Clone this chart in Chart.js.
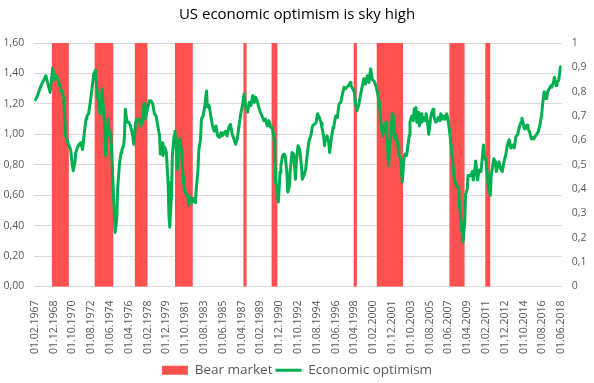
<!DOCTYPE html>
<html>
<head>
<meta charset="utf-8">
<script src="https://cdn.jsdelivr.net/npm/chart.js@4.4.1/dist/chart.umd.min.js"></script>
<style>
  html, body { margin: 0; padding: 0; background: #fff; }
  #wrap { width: 594px; height: 383px; }
</style>
</head>
<body>
<div id="wrap"><canvas id="chart" width="594" height="383"></canvas></div>
<script>
// months counted from 01.02.1967 (= 0), monthly series up to 01.06.2018 (= 616)
const tickLabels = [
  '01.02.1967', '01.12.1968', '01.10.1970', '01.08.1972', '01.06.1974', '01.04.1976',
  '01.02.1978', '01.12.1979', '01.10.1981', '01.08.1983', '01.06.1985', '01.04.1987',
  '01.02.1989', '01.12.1990', '01.10.1992', '01.08.1994', '01.06.1996', '01.04.1998',
  '01.02.2000', '01.12.2001', '01.10.2003', '01.08.2005', '01.06.2007', '01.04.2009',
  '01.02.2011', '01.12.2012', '01.10.2014', '01.08.2016', '01.06.2018'
];
const tickStep = 22; // one label every 22 months

// bear markets: [first month, last month]
const bearRanges = [
  [21, 39], [71, 91], [118, 131], [165, 184], [245, 247],
  [278, 283], [374, 376], [401, 430], [486, 502], [528, 532]
];

// economic optimism (month index, value)
const optMonths = [
  0, 3, 6, 9, 11, 13, 15, 18, 21, 23, 25, 27, 28, 30, 32, 34, 35, 36, 38, 40,
  42, 44, 45, 47, 48, 50, 52, 54, 56, 58, 60, 61, 63, 65, 67, 69, 71, 72, 74, 76,
  77, 79, 80, 82, 83, 84, 86, 87, 89, 91, 93, 94, 96, 97, 99, 101, 102, 104, 105, 106,
  108, 110, 112, 114, 116, 118, 120, 122, 124, 126, 128, 129, 131, 133, 134, 136, 138, 140, 142, 144,
  146, 147, 149, 150, 152, 154, 156, 157, 158, 160, 161, 163, 164, 166, 167, 168, 170, 172, 173, 175,
  177, 179, 180, 182, 184, 186, 188, 189, 191, 192, 194, 195, 197, 199, 201, 202, 204, 206, 208, 210,
  212, 214, 216, 218, 219, 221, 223, 225, 227, 229, 231, 233, 235, 237, 239, 241, 243, 245, 247, 249,
  251, 253, 255, 257, 258, 260, 262, 264, 266, 268, 270, 272, 274, 276, 278, 280, 281, 282, 284, 285,
  287, 288, 290, 292, 293, 295, 296, 298, 299, 301, 303, 305, 306, 308, 310, 312, 313, 315, 317, 319,
  321, 323, 325, 327, 329, 331, 333, 335, 336, 338, 339, 340, 342, 344, 345, 347, 349, 350, 352, 354,
  356, 358, 360, 362, 364, 367, 369, 370, 372, 374, 375, 377, 379, 381, 383, 385, 387, 389, 391, 393,
  395, 397, 399, 401, 403, 405, 407, 409, 411, 412, 414, 415, 417, 418, 420, 421, 423, 425, 426, 428,
  429, 430, 432, 433, 435, 436, 438, 439, 441, 443, 444, 446, 447, 449, 450, 452, 453, 455, 457, 458,
  460, 461, 463, 464, 466, 467, 469, 471, 472, 474, 475, 477, 478, 480, 482, 483, 485, 487, 489, 491,
  494, 496, 497, 499, 500, 501, 503, 504, 506, 507, 510, 512, 513, 515, 516, 518, 520, 522, 524, 525,
  526, 528, 530, 531, 533, 534, 536, 537, 539, 540, 542, 543, 545, 547, 549, 551, 553, 555, 557, 559,
  561, 563, 565, 567, 569, 570, 572, 573, 576, 577, 579, 581, 583, 584, 586, 589, 591, 593, 594, 596,
  597, 599, 600, 602, 604, 605, 607, 608, 610, 611, 613, 615, 616
];
const optValues = [
  1.22, 1.25, 1.30, 1.34, 1.36, 1.385, 1.34, 1.275, 1.435, 1.36, 1.385, 1.36, 1.34, 1.31, 1.275, 1.24, 1.12, 0.99, 0.96, 0.925,
  0.90, 0.795, 0.76, 0.815, 0.88, 0.915, 0.935, 0.945, 0.90, 1.01, 1.10, 1.12, 1.135, 1.21, 1.30, 1.395, 1.42, 1.34, 1.23, 1.145,
  1.135, 1.30, 1.19, 1.035, 0.86, 0.97, 1.10, 0.99, 1.01, 0.75, 0.49, 0.355, 0.445, 0.64, 0.795, 0.88, 0.90, 0.925, 0.99, 1.165,
  1.08, 1.08, 1.055, 1.01, 0.935, 1.08, 1.10, 1.10, 1.055, 1.08, 1.20, 1.10, 1.145, 1.19, 1.22, 1.22, 1.20, 1.135, 1.12, 1.055,
  0.99, 0.87, 0.945, 0.86, 0.915, 0.88, 0.685, 0.465, 0.39, 0.60, 0.86, 0.99, 1.02, 0.88, 0.77, 0.945, 0.97, 0.88, 0.77, 0.64,
  0.61, 0.60, 0.535, 0.59, 0.55, 0.58, 0.55, 0.64, 0.77, 0.90, 0.97, 1.10, 1.12, 1.19, 1.285, 1.18, 1.19, 1.12, 1.055, 1.02,
  1.055, 0.99, 0.98, 1.01, 0.99, 1.00, 1.02, 0.99, 1.045, 1.065, 1.00, 0.97, 0.935, 0.97, 1.055, 1.135, 1.19, 1.265, 1.18, 1.145,
  1.21, 1.19, 1.255, 1.21, 1.245, 1.225, 1.18, 1.145, 1.12, 1.09, 1.10, 1.055, 1.09, 1.045, 1.045, 0.97, 0.84, 0.685, 0.62, 0.555,
  0.75, 0.795, 0.86, 0.87, 0.86, 0.75, 0.62, 0.66, 0.77, 0.88, 0.87, 0.705, 0.81, 0.925, 0.90, 0.795, 0.705, 0.73, 0.77, 0.88,
  0.96, 0.99, 1.055, 1.065, 1.075, 1.135, 1.11, 1.075, 1.045, 0.99, 0.925, 0.97, 0.99, 0.945, 0.88, 0.97, 1.045, 1.055, 1.12, 1.11,
  1.20, 1.21, 1.265, 1.31, 1.30, 1.32, 1.34, 1.32, 1.30, 1.275, 1.21, 1.155, 1.19, 1.255, 1.31, 1.365, 1.33, 1.385, 1.34, 1.43,
  1.36, 1.35, 1.32, 1.275, 1.21, 1.08, 0.99, 1.055, 1.08, 0.98, 0.795, 0.925, 0.99, 1.135, 1.12, 0.97, 0.99, 0.925, 0.87, 0.84,
  0.77, 0.685, 0.84, 0.87, 0.86, 0.90, 0.99, 1.08, 1.12, 1.09, 1.165, 1.175, 1.08, 1.145, 1.055, 1.135, 1.08, 1.11, 1.09, 1.135,
  1.055, 1.00, 1.10, 1.135, 1.165, 1.12, 1.08, 1.09, 1.11, 1.09, 1.135, 1.10, 1.12, 1.10, 1.135, 1.11, 1.035, 0.935, 0.81, 0.70,
  0.66, 0.64, 0.53, 0.42, 0.355, 0.29, 0.42, 0.60, 0.64, 0.73, 0.73, 0.755, 0.70, 0.77, 0.825, 0.70, 0.765, 0.755, 0.865, 0.93,
  0.865, 0.82, 0.71, 0.645, 0.60, 0.73, 0.80, 0.84, 0.82, 0.755, 0.80, 0.82, 0.775, 0.755, 0.82, 0.865, 0.93, 0.965, 0.91, 0.93,
  0.91, 0.985, 1.00, 1.05, 1.08, 1.105, 1.06, 1.035, 1.06, 1.035, 1.015, 0.97, 0.98, 0.97, 0.99, 1.015, 1.06, 1.125, 1.19, 1.28,
  1.235, 1.235, 1.28, 1.30, 1.32, 1.31, 1.345, 1.375, 1.32, 1.345, 1.355, 1.44, 1.45
];

const RED = '#FF5050';
const GREEN = '#00B050';
const GRID = '#D9D9D9';
const TEXT = '#595959';
const FONT = "'Open Sans', sans-serif";

function bearPoints() {
  const pts = [];
  bearRanges.forEach(([a, b]) => {
    for (let m = a; m <= b; m++) pts.push({ x: m, y: 1 });
  });
  return pts;
}

function optPoints() {
  return optMonths.map((m, i) => ({ x: m, y: optValues[i] }));
}

const comma = (v, d) => v.toFixed(d).replace('.', ',');

new Chart(document.getElementById('chart'), {
  data: {
    datasets: [
      {
        type: 'line',
        label: 'Economic optimism',
        data: optPoints(),
        yAxisID: 'y',
        borderColor: GREEN,
        backgroundColor: GREEN,
        borderWidth: 3,
        pointRadius: 0,
        tension: 0,
        borderJoinStyle: 'round',
        order: 0
      },
      {
        type: 'bar',
        label: 'Bear market',
        data: bearPoints(),
        yAxisID: 'y1',
        backgroundColor: RED,
        borderWidth: 0,
        barPercentage: 1,
        categoryPercentage: 1,
        order: 1
      }
    ]
  },
  options: {
    responsive: false,
    animation: false,
    devicePixelRatio: 1,
    layout: { padding: { left: 0, right: 0, top: 0, bottom: -4 } },
    plugins: {
      title: {
        display: true,
        text: 'US economic optimism is sky high',
        color: '#000',
        font: { family: FONT, size: 15, weight: 'normal' },
        padding: { top: 6, bottom: 19 }
      },
      legend: {
        position: 'bottom',
        reverse: true,
        labels: {
          color: TEXT,
          font: { family: FONT, size: 13.5 },
          usePointStyle: true,
          pointStyleWidth: 26,
          boxHeight: 9,
          padding: 3,
          generateLabels: chart => chart.data.datasets.map((ds, i) => ({
            text: ds.label,
            fillStyle: ds.type === 'bar' ? RED : GREEN,
            strokeStyle: ds.type === 'bar' ? RED : GREEN,
            lineWidth: ds.type === 'bar' ? 0 : 3,
            pointStyle: ds.type === 'bar' ? 'rect' : 'line',
            fontColor: TEXT,
            datasetIndex: i
          }))
        }
      },
      tooltip: { enabled: false }
    },
    scales: {
      x: {
        type: 'linear',
        min: -0.5,
        max: 616.5,
        offset: false,
        grid: { display: false },
        border: { display: false },
        afterBuildTicks: axis => {
          axis.ticks = tickLabels.map((_, i) => ({ value: i * tickStep }));
        },
        afterFit: s => { s.height = 74; },
        ticks: {
          autoSkip: false,
          minRotation: 90,
          maxRotation: 90,
          padding: 6,
          color: TEXT,
          font: { family: FONT, size: 10.5 },
          callback: v => tickLabels[Math.round(v / tickStep)]
        }
      },
      y: {
        position: 'left',
        min: 0,
        max: 1.6,
        grid: { color: GRID, drawTicks: false },
        border: { display: false },
        afterFit: s => { s.width = 34.3; },
        ticks: {
          stepSize: 0.2,
          padding: 10,
          color: TEXT,
          font: { family: FONT, size: 10.5 },
          callback: v => comma(v, 2)
        }
      },
      y1: {
        position: 'right',
        min: 0,
        max: 1,
        grid: { display: false, drawTicks: false },
        border: { display: false },
        afterFit: s => { s.width = 32.3; },
        ticks: {
          stepSize: 0.1,
          padding: 10,
          color: TEXT,
          font: { family: FONT, size: 10.5 },
          callback: v => (v === 0 || v === 1) ? String(v) : comma(v, 1)
        }
      }
    }
  }
});
</script>
</body>
</html>
